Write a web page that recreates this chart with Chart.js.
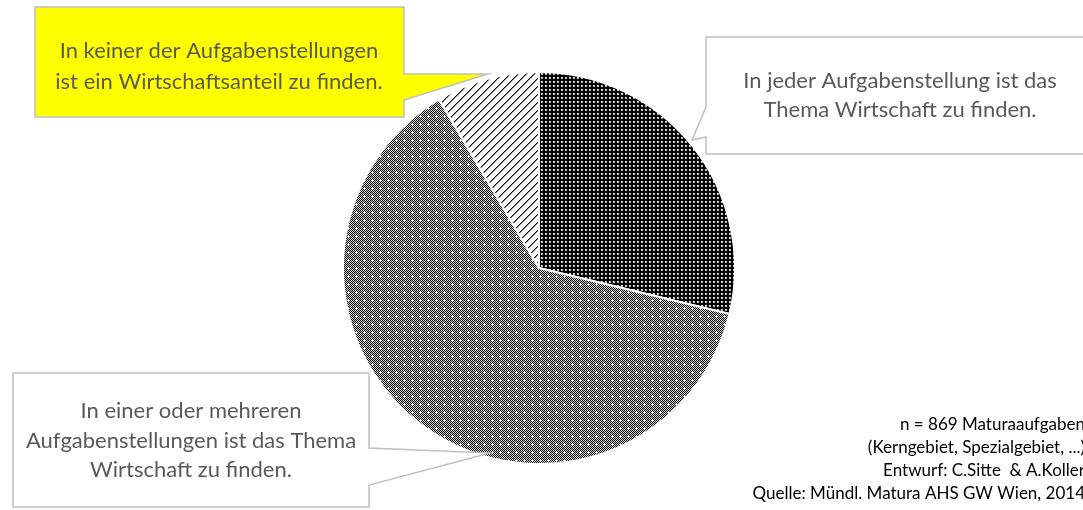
<!DOCTYPE html>
<html>
<head>
<meta charset="utf-8">
<script src="https://cdn.jsdelivr.net/npm/chart.js@4"></script>
<style>
  html, body { margin: 0; padding: 0; background: #fff; }
  #wrap { width: 1083px; height: 510px; position: relative; }
</style>
</head>
<body>
<div id="wrap"><canvas id="wirtschaftChart" width="1083" height="510"></canvas></div>
<script>
// Kategorien und Anzahl der Aufgaben (n = 869), aus dem Bild geschätzt
const categories = [
  'In jeder Aufgabenstellung ist das Thema Wirtschaft zu finden.',
  'In einer oder mehreren Aufgabenstellungen ist das Thema Wirtschaft zu finden.',
  'In keiner der Aufgabenstellungen ist ein Wirtschaftsanteil zu finden.'
];
const counts = [250, 545, 74];

// Callout texts
const calloutJeder = ['In jeder Aufgabenstellung ist das', 'Thema Wirtschaft zu finden.'];
const calloutEiner = ['In einer oder mehreren', 'Aufgabenstellungen ist das Thema', 'Wirtschaft zu finden.'];
const calloutKeiner = ['In keiner der Aufgabenstellungen', 'ist ein Wirtschaftsanteil zu finden.'];
const sourceLines = [
  'n = 869 Maturaaufgaben',
  '(Kerngebiet, Spezialgebiet, ...)',
  'Entwurf: C.Sitte  & A.Koller',
  'Quelle: Mündl. Matura AHS GW Wien, 2014'
];

// build a small tile and turn it into a canvas pattern
function makePattern(size, drawTile) {
  const c = document.createElement('canvas');
  c.width = size; c.height = size;
  const g = c.getContext('2d');
  drawTile(g);
  return g.createPattern(c, 'repeat');
}

// black with small light dots
const darkDots = makePattern(4, g => {
  g.fillStyle = '#000'; g.fillRect(0, 0, 4, 4);
  g.fillStyle = '#bbb'; g.fillRect(1, 1, 2, 2);
  g.fillStyle = '#fff'; g.fillRect(1, 1, 1, 1);
});

// fine checkerboard with white crosses
const checkCross = makePattern(8, g => {
  g.fillStyle = '#d8d8d8'; g.fillRect(0, 0, 8, 8);
  g.fillStyle = '#000';
  for (let y = 0; y < 8; y++) {
    for (let x = 0; x < 8; x++) {
      if ((x + y) % 2 === 0) g.fillRect(x, y, 1, 1);
    }
  }
  g.fillStyle = '#fff';
  g.fillRect(3, 4, 3, 1);
  g.fillRect(4, 3, 1, 3);
});

// wide upward diagonal hatch
const diagHatch = makePattern(8, g => {
  g.fillStyle = '#fff'; g.fillRect(0, 0, 8, 8);
  for (let i = 0; i < 8; i++) {
    g.fillStyle = '#000';
    g.fillRect(7 - i, i, 1, 1);
    g.fillStyle = '#888';
    g.fillRect((8 - i) % 8, i, 1, 1);
  }
});

const calloutFont = '22px Lato, "Open Sans", sans-serif';
const calloutColor = '#595959';
const boxLine = '#bfbfbf';

function drawCallout(ctx, pts, fill, lines, cx, firstY, lineH) {
  ctx.save();
  ctx.beginPath();
  ctx.moveTo(pts[0][0], pts[0][1]);
  for (let i = 1; i < pts.length; i++) ctx.lineTo(pts[i][0], pts[i][1]);
  ctx.closePath();
  ctx.fillStyle = fill;
  ctx.fill();
  ctx.lineWidth = 1.5;
  ctx.strokeStyle = boxLine;
  ctx.stroke();
  ctx.font = calloutFont;
  ctx.fillStyle = calloutColor;
  ctx.textAlign = 'center';
  ctx.textBaseline = 'middle';
  lines.forEach((t, i) => ctx.fillText(t, cx, firstY + i * lineH));
  ctx.restore();
}

const calloutPlugin = {
  id: 'callouts',
  afterDraw(chart) {
    const ctx = chart.ctx;
    // yellow box top left, pointing to the hatched slice
    drawCallout(ctx, [[35, 7], [404, 7], [404, 74], [488, 74], [404, 100], [404, 117], [35, 117]],
      '#ffff00', calloutKeiner, 219, 51, 31);
    // box top right, pointing to the dark slice
    drawCallout(ctx, [[706, 37], [1095, 37], [1095, 154], [706, 154], [706, 137], [692, 140], [706, 107]],
      '#ffffff', calloutJeder, 900, 81, 29);
    // box bottom left, pointing to the big slice
    drawCallout(ctx, [[13, 373], [369, 373], [369, 448], [490, 453], [369, 485], [369, 507], [13, 507]],
      '#ffffff', calloutEiner, 191, 411, 29.5);

    // source note bottom right
    ctx.save();
    ctx.font = '17px Lato, "Open Sans", sans-serif';
    ctx.fillStyle = '#000';
    ctx.textAlign = 'right';
    ctx.textBaseline = 'middle';
    sourceLines.forEach((t, i) => ctx.fillText(t, 1085, 425 + i * 23));
    ctx.restore();
  }
};

const ctx = document.getElementById('wirtschaftChart');

new Chart(ctx, {
  type: 'pie',
  data: {
    labels: categories,
    datasets: [{
      data: counts,
      backgroundColor: [darkDots, checkCross, diagHatch],
      borderColor: '#ffffff',
      borderWidth: 2
    }]
  },
  options: {
    responsive: false,
    animation: false,
    layout: { padding: { top: 71, bottom: 45, left: 0, right: 5 } },
    plugins: {
      legend: { display: false },
      tooltip: { enabled: false }
    }
  },
  plugins: [calloutPlugin]
});
</script>
</body>
</html>
